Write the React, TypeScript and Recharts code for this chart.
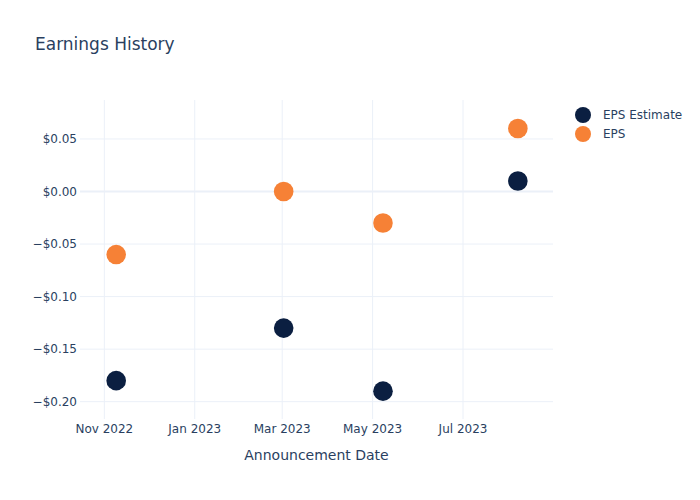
import { ScatterChart, Scatter, XAxis, YAxis, CartesianGrid, ReferenceLine } from 'recharts'

const dates = ['2022-11-09', '2023-03-02', '2023-05-08', '2023-08-07']
const epsEstimate = [-0.18, -0.13, -0.19, 0.01]
const epsActual = [-0.06, 0.0, -0.03, 0.06]
const xTicks = ['2022-11-01', '2023-01-01', '2023-03-01', '2023-05-01', '2023-07-01']
const yTicks = [-0.2, -0.15, -0.1, -0.05, 0, 0.05]
const months = ['Jan', 'Feb', 'Mar', 'Apr', 'May', 'Jun', 'Jul', 'Aug', 'Sep', 'Oct', 'Nov', 'Dec']

const TEXT = '#2a3f5f'
const GRID = '#EBF0F8'
const NAVY = '#0b1f41'
const ORANGE = '#f68136'
const FONT = '"DejaVu Sans", Verdana, sans-serif'

const ts = (d: string) => Date.parse(d + 'T00:00:00Z')

const estimateData = dates.map((d, i) => ({ x: ts(d), y: epsEstimate[i] }))
const epsData = dates.map((d, i) => ({ x: ts(d), y: epsActual[i] }))

function fmtDate(v: number) {
  const d = new Date(v)
  return `${months[d.getUTCMonth()]} ${d.getUTCFullYear()}`
}

function fmtMoney(v: number) {
  const s = Math.abs(v).toFixed(2)
  return v < -1e-9 ? `\u2212$${s}` : `$${s}`
}

const dot = (color: string) => (p: any) => <circle cx={p.cx} cy={p.cy} r={9.8} fill={color} />

const legendItems = [
  { name: 'EPS Estimate', color: NAVY },
  { name: 'EPS', color: ORANGE },
]

export default function App() {
  return (
    <div style={{ position: 'absolute', left: 0, top: 0, width: 700, height: 500, background: '#fff', fontFamily: FONT }}>
      <div style={{ position: 'absolute', left: 35, top: 34, fontSize: 17, color: TEXT }}>Earnings History</div>
      <div style={{ position: 'absolute', left: 80, width: 473, top: 447, textAlign: 'center', fontSize: 14, color: TEXT }}>
        Announcement Date
      </div>
      <div style={{ position: 'absolute', left: 575, top: 105, fontSize: 12, color: TEXT, zIndex: 2 }}>
        {legendItems.map(it => (
          <div key={it.name} style={{ display: 'flex', alignItems: 'center', height: 19 }}>
            <span style={{ display: 'inline-block', width: 16, height: 16, borderRadius: 8, background: it.color }} />
            <span style={{ marginLeft: 12 }}>{it.name}</span>
          </div>
        ))}
      </div>
      <ScatterChart width={700} height={500} margin={{ top: 100, right: 147, bottom: 51, left: 0 }}>
        <CartesianGrid stroke={GRID} strokeWidth={1} syncWithTicks />
        <ReferenceLine y={0} stroke={GRID} strokeWidth={2} />
        <XAxis
          type="number"
          dataKey="x"
          domain={[Date.UTC(2022, 9, 15, 14), Date.UTC(2023, 7, 30, 17)]}
          ticks={xTicks.map(ts)}
          tickFormatter={fmtDate}
          axisLine={false}
          tickLine={false}
          tickSize={0}
          tickMargin={5}
          height={30}
          allowDataOverflow
          tick={{ fill: TEXT, fontSize: 12, fontFamily: FONT }}
        />
        <YAxis
          type="number"
          dataKey="y"
          domain={[-0.2165, 0.0871]}
          ticks={yTicks}
          tickFormatter={fmtMoney}
          axisLine={false}
          tickLine={false}
          tickSize={0}
          tickMargin={3}
          width={80}
          allowDataOverflow
          tick={{ fill: TEXT, fontSize: 12, fontFamily: FONT }}
        />
        <Scatter name="EPS Estimate" data={estimateData} fill={NAVY} shape={dot(NAVY)} isAnimationActive={false} />
        <Scatter name="EPS" data={epsData} fill={ORANGE} shape={dot(ORANGE)} isAnimationActive={false} />
      </ScatterChart>
    </div>
  )
}
